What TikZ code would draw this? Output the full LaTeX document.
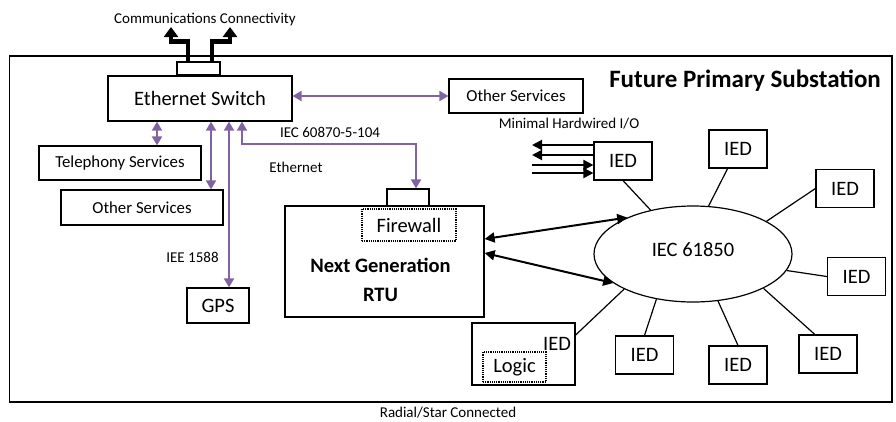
\documentclass[tikz,border=0pt]{standalone}
\usepackage{fontspec}
\setmainfont{Carlito}
\usetikzlibrary{arrows.meta,shapes.geometric}

\definecolor{linkpurple}{RGB}{128,100,162}

\begin{document}
\begin{tikzpicture}[
    x=1pt, y=-1pt,
    font=\fontsize{20.5}{24}\selectfont,
    box/.style={draw, line width=1.2pt, inner sep=0pt, align=center},
    ied/.style={box, minimum width=58pt, minimum height=38pt},
    dotbox/.style={draw, densely dotted, line width=1.2pt, inner sep=0pt},
    small/.style={font=\fontsize{15}{18}\selectfont, inner sep=0pt, anchor=base},
    link/.style={draw=linkpurple, line width=2pt, {Triangle[length=9pt,width=10pt]}-{Triangle[length=9pt,width=10pt]}},
    comm/.style={line width=4.5pt, -{Triangle[length=10pt,width=14pt]}},
    wire/.style={line width=2pt, -{Triangle[length=10pt,width=10pt]}},
    spoke/.style={line width=1.2pt}
]
  \useasboundingbox (0,0) rectangle (896,421);

  % ===== substation frame =====
  \draw[line width=1.2pt] (9.5,56) rectangle (892,402);
  \node[font=\fontsize{25}{28}\bfseries\selectfont, inner sep=0pt, anchor=base east] (title) at (881,87) {Future Primary Substation};

  % ===== switch and services =====
  \node[box, minimum width=184pt, minimum height=45pt] (switch) at (200,98.5) {Ethernet Switch};
  \node[box, fill=white, minimum width=43pt, minimum height=13pt] (uplink) at (198.5,68.5) {};
  \node[box, font=\fontsize{16.8}{20}\selectfont, minimum width=134pt, minimum height=34pt] (svcR) at (516,96) {Other Services};
  \node[box, font=\fontsize{16.8}{20}\selectfont, minimum width=162pt, minimum height=34pt] (tel) at (120,163) {Telephony Services};
  \node[box, font=\fontsize{16.8}{20}\selectfont, minimum width=162pt, minimum height=35pt] (svcL) at (142,207.5) {Other Services};
  \node[box, minimum width=62pt, minimum height=35pt] (gps) at (218,305.5) {GPS};

  % uplinks out of the substation
  \coordinate (commL) at (171,27);
  \coordinate (commR) at (230,27);
  \draw[comm] ([xshift=-10.5pt]uplink.north) -- ++(0,-20) -| (commL);
  \draw[comm] ([xshift=13.5pt]uplink.north) -- ++(0,-20) -| (commR);
  \node[small] (commtxt) at (205,23) {Communications Connectivity};

  % ===== next generation RTU =====
  \node[box, minimum width=199pt, minimum height=111pt] (rtu) at (384.5,261.5) {};
  \node[box, fill=white, minimum width=42pt, minimum height=17pt] (rtuport) at (408,197.5) {};
  \node[dotbox, minimum width=94pt, minimum height=32pt] (firewall) at (409,225) {Firewall};
  \node[font=\fontsize{20.5}{29}\bfseries\selectfont, align=center, inner sep=0pt, anchor=base] (rtulabel) at (380.5,301) {Next Generation\\RTU};

  % purple Ethernet links
  \draw[link] (svcR.west -| switch.east) -- (svcR.west);
  \draw[link] ([xshift=-43pt]switch.south) -- ([xshift=-43pt]switch.south |- tel.north);
  \draw[link] ([xshift=11pt]switch.south) -- ([xshift=11pt]switch.south |- svcL.north);
  \draw[link] ([xshift=29pt]switch.south) -- ([xshift=29pt]switch.south |- gps.north);
  \draw[link] ([xshift=42pt]switch.south) -- ++(0,22) -| ([xshift=8pt]rtuport.north);
  \node[small] (protocol) at (330,137) {IEC 60870-5-104};
  \node[small] (ethtxt) at (296,172) {Ethernet};
  \node[small] (ptp) at (192.5,262) {IEE 1588};

  % ===== IEC 61850 ring =====
  \node[ellipse, draw, line width=1.2pt, minimum width=198pt, minimum height=96pt] (ring) at (693,254) {\raisebox{9pt}{IEC 61850}};
  \node[ied] (iedio) at (623,161) {IED};
  \node[ied] (iedA) at (738,149) {IED};
  \node[ied] (iedB) at (845,188.5) {IED};
  \node[ied] (iedC) at (856.5,276.5) {IED};
  \node[ied] (iedD) at (828,354) {IED};
  \node[ied] (iedE) at (738,365) {IED};
  \node[ied] (iedF) at (644.5,355) {IED};
  \node[box, minimum width=103pt, minimum height=62pt] (logicied) at (523.5,354) {};
  \node[inner sep=0pt, anchor=base] (logicname) at (557,350) {IED};
  \node[dotbox, minimum width=63pt, minimum height=30pt] (logic) at (514.5,367) {Logic};

  \foreach \n/\a/\b in {iedio/south/134, iedA/-118/72, iedB/west/24, iedC/west/-10,
                        iedD/124/-26, iedE/north/-62, iedF/north/-129, logicied/20/-153}
    \draw[spoke] (\n.\a) -- (ring.\b);

  \draw[line width=2pt, {Triangle[length=10pt,width=10pt]}-{Triangle[length=10pt,width=10pt]}] ([yshift=22.5pt]rtu.east) -- (ring.151);
  \draw[line width=2pt, {Triangle[length=10pt,width=10pt]}-{Triangle[length=10pt,width=10pt]}] ([yshift=8.5pt]rtu.east) -- (ring.-160);

  % hardwired I/O
  \foreach \i/\y in {1/145,2/155,3/165,4/173}
    \coordinate (io\i) at (532,\y);
  \draw[wire] (io1 -| iedio.west) -- (io1);
  \draw[wire] (io2 -| iedio.west) -- (io2);
  \draw[wire] (io3) -- (io3 -| iedio.west);
  \draw[wire] (io4) -- (io4 -| iedio.west);
  \node[small] (iotxt) at (569,128) {Minimal Hardwired I/O};

  \node[small] (radial) at (448,417) {Radial/Star Connected};
\end{tikzpicture}
\end{document}
